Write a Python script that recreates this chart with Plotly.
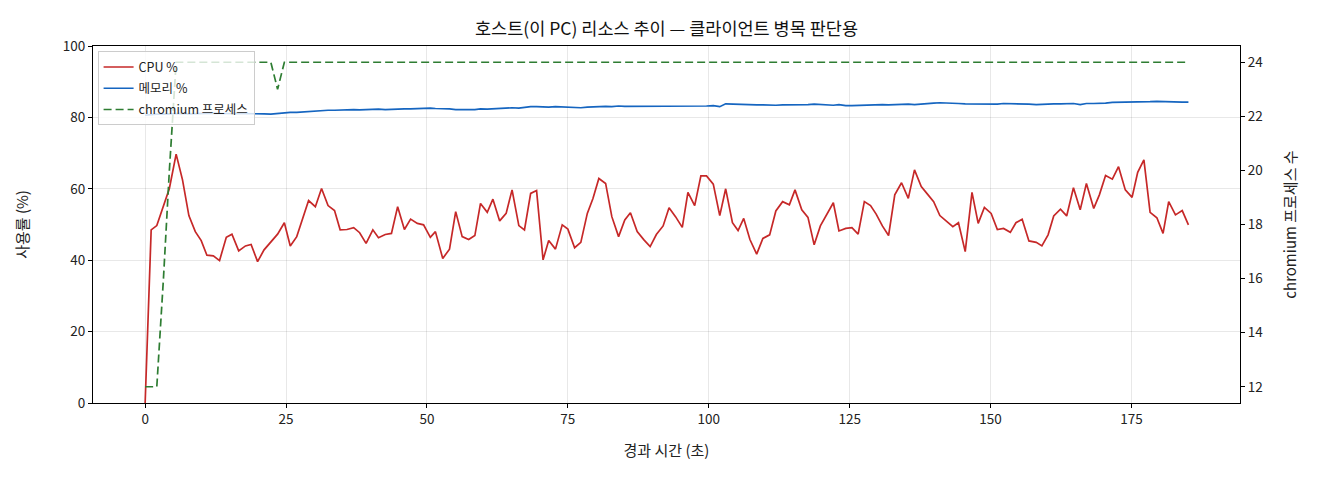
import plotly.graph_objects as go

# elapsed time (s)
elapsed_s = [
    0, 1.07, 2.07, 3.25, 4.3, 5.5, 6.63, 7.76, 8.9, 9.95,
    10.96, 12.1, 13.2, 14.4, 15.4, 16.6, 17.8, 18.8, 19.95, 21.1,
    22.3, 23.5, 24.7, 25.75, 26.9, 27.9, 29.0, 30.2, 31.3, 32.45,
    33.6, 34.6, 35.8, 37.0, 38.06, 39.2, 40.4, 41.4, 42.6, 43.7,
    44.8, 46.0, 47.1, 48.3, 49.4, 50.6, 51.5, 52.8, 54.0, 55.1,
    56.25, 57.4, 58.5, 59.5, 60.7, 61.7, 62.9, 64.05, 65.1, 66.3,
    67.3, 68.4, 69.45, 70.6, 71.6, 72.8, 74.0, 75.0, 76.2, 77.3,
    78.45, 79.45, 80.5, 81.7, 82.8, 84.0, 85.1, 86.1, 87.3, 88.5,
    89.6, 90.7, 91.9, 92.95, 94.1, 95.3, 96.3, 97.5, 98.6, 99.6,
    100.8, 101.95, 103.0, 104.2, 105.2, 106.2, 107.3, 108.5, 109.6, 110.8,
    111.9, 113.1, 114.3, 115.3, 116.5, 117.6, 118.7, 119.8, 121.0, 122.1,
    123.1, 124.3, 125.4, 126.5, 127.6, 128.7, 129.7, 130.8, 131.9, 133.0,
    134.2, 135.4, 136.5, 137.7, 138.8, 139.9, 141.0, 142.2, 143.3, 144.3,
    145.5, 146.7, 147.8, 148.9, 150.1, 151.2, 152.3, 153.5, 154.5, 155.6,
    156.8, 158.1, 159.1, 160.2, 161.2, 162.4, 163.5, 164.7, 165.9, 167.0,
    168.3, 169.3, 170.4, 171.6, 172.7, 173.9, 175.1, 176.1, 177.2, 178.3,
    179.5, 180.6, 181.6, 182.8, 184.0, 185.1,
]

cpu_pct = [
    0, 48.5, 49.7, 55.0, 60.1, 69.7, 62.5, 52.5, 48.0, 45.5,
    41.4, 41.2, 39.9, 46.4, 47.3, 42.6, 44.0, 44.4, 39.6, 42.9,
    45.2, 47.3, 50.5, 44.0, 46.6, 51.7, 56.7, 55.0, 60.1, 55.3,
    53.9, 48.5, 48.6, 49.1, 47.7, 44.7, 48.5, 46.3, 47.2, 47.5,
    55.0, 48.6, 51.5, 50.3, 49.9, 46.4, 48.0, 40.5, 43.1, 53.6,
    46.6, 45.8, 46.9, 55.9, 53.4, 57.1, 51.0, 53.1, 59.7, 49.7,
    48.5, 58.7, 59.5, 40.1, 45.5, 43.1, 49.9, 48.7, 43.5, 45.0,
    53.1, 57.3, 62.9, 61.5, 52.2, 46.6, 51.3, 53.3, 48.0, 45.7,
    43.8, 47.2, 49.6, 54.7, 52.2, 49.2, 59.0, 55.3, 63.6, 63.6,
    61.3, 52.5, 60.0, 50.5, 48.3, 51.7, 45.8, 41.7, 46.1, 47.1,
    53.8, 56.4, 55.5, 59.7, 54.1, 52.0, 44.3, 49.6, 52.9, 56.1,
    48.2, 48.9, 49.1, 47.3, 56.4, 55.3, 52.9, 49.6, 46.9, 58.3,
    61.7, 57.3, 65.3, 60.6, 58.5, 56.4, 52.5, 51.0, 49.4, 50.5,
    42.4, 59.0, 50.3, 54.8, 53.1, 48.6, 48.9, 47.8, 50.5, 51.5,
    45.4, 45.0, 44.0, 47.1, 52.4, 54.3, 52.4, 60.3, 54.1, 61.5,
    54.5, 58.3, 63.7, 62.7, 66.2, 59.7, 57.6, 64.6, 68.1, 53.4,
    51.9, 47.5, 56.4, 52.7, 53.9, 49.9,
]

mem_pct = [
    80.6, 80.8, 80.9, 80.9, 81.0, 81.0, 81.1, 81.0, 81.1, 81.1,
    81.1, 81.2, 81.1, 81.1, 81.2, 81.1, 81.1, 81.2, 81.1, 81.0,
    80.9, 81.1, 81.3, 81.4, 81.4, 81.5, 81.8, 81.9, 81.9, 82.0,
    82.0, 82.1, 82.2, 82.2, 82.1, 82.2, 82.2, 82.3, 82.2, 82.3,
    82.2, 82.4, 82.4, 82.5, 82.5, 82.6, 82.5, 82.5, 82.4, 82.2,
    82.1, 82.2, 82.2, 82.4, 82.3, 82.4, 82.6, 82.6, 82.7, 82.6,
    82.8, 83.0, 83.0, 82.9, 82.9, 83.0, 82.9, 82.9, 82.8, 82.7,
    82.9, 83.0, 83.0, 83.1, 83.0, 83.2, 83.1, 83.1, 83.2, 83.1,
    83.0, 83.0, 83.0, 83.1, 83.1, 83.1, 83.0, 83.1, 83.2, 83.2,
    83.3, 83.0, 83.8, 83.7, 83.8, 83.6, 83.6, 83.5, 83.5, 83.4,
    83.4, 83.5, 83.5, 83.4, 83.6, 83.6, 83.7, 83.6, 83.6, 83.4,
    83.6, 83.3, 83.3, 83.4, 83.5, 83.6, 83.5, 83.6, 83.5, 83.6,
    83.6, 83.7, 83.6, 83.8, 83.9, 84.0, 84.1, 84.1, 84.0, 83.9,
    83.8, 83.8, 83.8, 83.7, 83.6, 83.7, 83.9, 83.9, 83.8, 83.9,
    83.7, 83.6, 83.7, 83.7, 83.8, 83.8, 83.9, 83.9, 83.6, 83.9,
    83.9, 83.9, 84.0, 84.2, 84.2, 84.3, 84.3, 84.3, 84.3, 84.4,
    84.5, 84.4, 84.5, 84.4, 84.3, 84.3,
]

chromium_procs = [
    12, 12, 12, 16, 20, 24, 24, 24, 24, 24,
    24, 24, 24, 24, 24, 24, 24, 24, 24, 24,
    24, 23, 24, 24, 24, 24, 24, 24, 24, 24,
    24, 24, 24, 24, 24, 24, 24, 24, 24, 24,
    24, 24, 24, 24, 24, 24, 24, 24, 24, 24,
    24, 24, 24, 24, 24, 24, 24, 24, 24, 24,
    24, 24, 24, 24, 24, 24, 24, 24, 24, 24,
    24, 24, 24, 24, 24, 24, 24, 24, 24, 24,
    24, 24, 24, 24, 24, 24, 24, 24, 24, 24,
    24, 24, 24, 24, 24, 24, 24, 24, 24, 24,
    24, 24, 24, 24, 24, 24, 24, 24, 24, 24,
    24, 24, 24, 24, 24, 24, 24, 24, 24, 24,
    24, 24, 24, 24, 24, 24, 24, 24, 24, 24,
    24, 24, 24, 24, 24, 24, 24, 24, 24, 24,
    24, 24, 24, 24, 24, 24, 24, 24, 24, 24,
    24, 24, 24, 24, 24, 24, 24, 24, 24, 24,
    24, 24, 24, 24, 24, 24,
]

x_ticks = [0, 25, 50, 75, 100, 125, 150, 175]
y_ticks = [0, 20, 40, 60, 80, 100]
y2_ticks = [12, 14, 16, 18, 20, 22, 24]

FONT = "Noto Sans CJK KR, Noto Sans, sans-serif"

fig = go.Figure()
fig.add_trace(go.Scatter(x=elapsed_s, y=cpu_pct, name="CPU %", mode="lines",
                         legendgroup="cpu",
                         line=dict(color="#c62828", width=1.7)))
fig.add_trace(go.Scatter(x=elapsed_s, y=mem_pct, name="메모리 %", mode="lines",
                         legendgroup="mem",
                         line=dict(color="#1565c0", width=1.7)))
fig.add_trace(go.Scatter(x=elapsed_s, y=chromium_procs, name="chromium 프로세스", mode="lines",
                         legendgroup="proc", yaxis="y2",
                         line=dict(color="#2e7d32", width=1.7, dash="8px,4px")))

axis_common = dict(showline=True, linecolor="black", linewidth=1, ticks="outside",
                   ticklen=4, tickcolor="black", tickfont=dict(size=13.5, color="#222"),
                   zeroline=False)

fig.update_layout(
    width=1320, height=480,
    margin=dict(l=85, r=88, t=38, b=85),
    paper_bgcolor="white", plot_bgcolor="white",
    font=dict(family=FONT, color="#222"),
    title=dict(text="호스트(이 PC) 리소스 추이 — 클라이언트 병목 판단용",
               x=(85 + 1232) / 2 / 1320, xanchor="center", y=1 - 21 / 480, yanchor="middle",
               yref="container",
               font=dict(size=17.5, color="#111")),
    showlegend=True,
    legend=dict(x=0.004, y=0.985, xanchor="left", yanchor="top",
                bgcolor="rgba(255,255,255,0.8)", bordercolor="#cccccc", borderwidth=1,
                font=dict(size=12.5, color="#222"), tracegroupgap=2, itemwidth=30),
    xaxis=dict(range=[-9.25, 194.25], tickvals=x_ticks, mirror=True,
               showgrid=True, gridcolor="rgba(0,0,0,0.09)", gridwidth=1,
               title=dict(text="경과 시간 (초)", font=dict(size=15), standoff=18),
               **axis_common),
    yaxis=dict(range=[0, 100], tickvals=y_ticks, mirror=True,
               showgrid=True, gridcolor="rgba(0,0,0,0.09)", gridwidth=1,
               title=dict(text="사용률 (%)", font=dict(size=15), standoff=30),
               **axis_common),
    yaxis2=dict(range=[11.4, 24.6], tickvals=y2_ticks, overlaying="y", side="right",
                showgrid=False,
                title=dict(text="chromium 프로세스 수", font=dict(size=15), standoff=23),
                **axis_common),
)

fig.write_html("out.html")
